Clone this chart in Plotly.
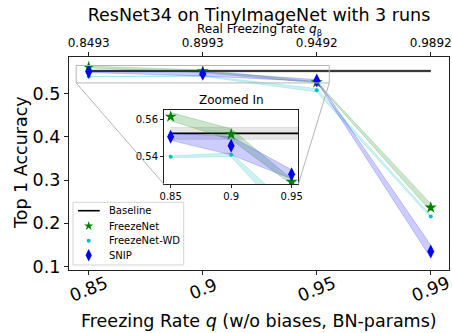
import plotly.graph_objects as go

# ---------------- data ----------------
categories = ["0.85", "0.9", "0.95", "0.99"]          # freezing rate q (bottom axis)
real_rates = ["0.8493", "0.8993", "0.9492", "0.9892"]  # real freezing rate (top axis)
x_pos = [0, 1, 2, 3]

baseline_mean = 0.5527
baseline_std = 0.0032

freezenet_mean = [0.5618, 0.5522, 0.5264, 0.2366]
freezenet_std = [0.0022, 0.0030, 0.0015, 0.0090]
wd_mean = [0.5400, 0.5410, 0.5080, 0.2158]
wd_std = [0.0005, 0.0010, 0.0040, 0.0030]
snip_mean = [0.5509, 0.5460, 0.5304, 0.1347]
snip_std = [0.0020, 0.0050, 0.0025, 0.0150]

series_names = ["Baseline", "FreezeNet", "FreezeNet-WD", "SNIP"]

y_ticks = [0.1, 0.2, 0.3, 0.4, 0.5]
inset_y_ticks = [0.54, 0.56]

# ---------------- geometry ----------------
W, H = 452, 333
ML, MR, MT, MB = 69, 3, 57, 63
PW, PH = W - ML - MR, H - MT - MB

main_xr = [-0.173, 3.16]
main_yr = [0.092, 0.585]
inset_xr = [-0.11, 2.11]
inset_yr = [0.525, 0.5654]

FONT = "DejaVu Sans"
GREEN = (0, 128, 0)
CYAN = (0, 191, 191)
BLUE = (0, 0, 255)


def rgba(c, a):
    return f"rgba({c[0]},{c[1]},{c[2]},{a})"


def py(pix):
    """pixel row -> paper y"""
    return (MT + PH - pix) / PH


def px(pix):
    """pixel column -> paper x"""
    return (pix - ML) / PW


inset_dx = [px(164), px(298.3)]
inset_dy = [py(184.3), py(110)]

styles = {
    "FreezeNet": (freezenet_mean, freezenet_std, GREEN, "star", 9, 7),
    "FreezeNet-WD": (wd_mean, wd_std, CYAN, "circle", 4, 4),
    "SNIP": (snip_mean, snip_std, BLUE, "diamond-tall", 10, 9),
}

fig = go.Figure()


def add_band(xa, ya, xs, lo, hi, color, alpha=0.2):
    fig.add_trace(go.Scatter(
        x=list(xs) + list(xs)[::-1], y=list(hi) + list(lo)[::-1],
        xaxis=xa, yaxis=ya, mode="lines", fill="toself",
        fillcolor=rgba(color, alpha), line=dict(color=rgba(color, 0.3), width=0.6),
        hoverinfo="skip", showlegend=False))


def add_all(xa, ya):
    add_band(xa, ya, [x_pos[0], x_pos[-1]],
             [baseline_mean - baseline_std] * 2, [baseline_mean + baseline_std] * 2,
             (128, 128, 128), 0.2)
    fig.add_trace(go.Scatter(
        x=[x_pos[0], x_pos[-1]], y=[baseline_mean] * 2, xaxis=xa, yaxis=ya,
        mode="lines", line=dict(color="black", width=1.6), name="Baseline",
        showlegend=False))
    for name in series_names[1:]:
        m, s, c, sym, sz, _ = styles[name]
        lo = [a - b for a, b in zip(m, s)]
        hi = [a + b for a, b in zip(m, s)]
        add_band(xa, ya, x_pos, lo, hi, c)
    for name in series_names[1:]:
        m, s, c, sym, sz, _ = styles[name]
        fig.add_trace(go.Scatter(
            x=x_pos, y=m, xaxis=xa, yaxis=ya, mode="markers", name=name,
            marker=dict(symbol=sym, size=sz, color=rgba(c, 1), line=dict(width=0)),
            showlegend=False))


add_all("x", "y")
add_all("x3", "y3")

fig.add_trace(go.Scatter(x=x_pos, y=snip_mean, xaxis="x2", yaxis="y", mode="markers",
                         marker=dict(opacity=0), hoverinfo="skip", showlegend=False))

# ---------------- legend (frame, samples and labels) ----------------
leg_left, leg_right, leg_top, leg_bottom = 73, 183.7, 202.3, 265
row_y = [210.7, 226, 240.7, 255.2]
sample_x = 88.7
text_x = 107.3
fig.add_trace(go.Scatter(
    x=[px(leg_left), px(leg_right), px(leg_right), px(leg_left), px(leg_left)],
    y=[py(leg_top), py(leg_top), py(leg_bottom), py(leg_bottom), py(leg_top)],
    xaxis="x4", yaxis="y4", mode="lines", fill="toself",
    fillcolor="rgba(255,255,255,0.85)", line=dict(color="#d4d4d4", width=1),
    hoverinfo="skip", showlegend=False))
fig.add_trace(go.Scatter(
    x=[px(78), px(99.7)], y=[py(row_y[0])] * 2, xaxis="x4", yaxis="y4",
    mode="lines", line=dict(color="black", width=1.6), hoverinfo="skip",
    showlegend=False))
for name, ry in zip(series_names[1:], row_y[1:]):
    m, s, c, sym, sz, lsz = styles[name]
    fig.add_trace(go.Scatter(
        x=[px(sample_x)], y=[py(ry)], xaxis="x4", yaxis="y4", mode="markers",
        marker=dict(symbol=sym, size=lsz, color=rgba(c, 1), line=dict(width=0)),
        hoverinfo="skip", showlegend=False))

axis_common = dict(showgrid=False, zeroline=False, linecolor="#222", ticks="outside",
                   tickcolor="#222", automargin=False)

fig.update_layout(
    width=W, height=H,
    margin=dict(l=ML, r=MR, t=MT, b=MB, pad=0, autoexpand=False),
    paper_bgcolor="white", plot_bgcolor="white",
    font=dict(family=FONT, color="black"),
    showlegend=False,
    title=dict(text="ResNet34 on TinyImageNet with 3 runs", x=(ML + PW / 2) / W,
               xanchor="center", y=1 - 15 / H, yanchor="middle", yref="container",
               font=dict(size=17.5, family=FONT), automargin=False),
    xaxis=dict(**axis_common, range=main_xr, tickvals=x_pos, showticklabels=False,
               ticklen=4, linewidth=1.3, mirror=True, showline=True),
    xaxis2=dict(**axis_common, range=main_xr, overlaying="x", side="top", anchor="y",
                tickvals=x_pos, ticktext=real_rates, ticklen=4, showline=False,
                tickfont=dict(size=12)),
    yaxis=dict(**axis_common, range=main_yr, tickvals=y_ticks,
               ticktext=[f"{v:.1f}" for v in y_ticks], ticklen=4, linewidth=1.3,
               mirror=True, showline=True, tickfont=dict(size=17.5)),
    xaxis3=dict(**axis_common, domain=inset_dx, anchor="y3", range=inset_xr,
                tickvals=x_pos[:3], ticktext=categories[:3], ticklen=3, showline=True,
                mirror=True, linewidth=1, tickfont=dict(size=10)),
    yaxis3=dict(**axis_common, domain=inset_dy, anchor="x3", range=inset_yr,
                tickvals=inset_y_ticks, ticktext=[f"{v:.2f}" for v in inset_y_ticks],
                ticklen=3, showline=True, mirror=True, linewidth=1,
                tickfont=dict(size=10)),
    xaxis4=dict(overlaying="x", range=[0, 1], visible=False, anchor="y4"),
    yaxis4=dict(overlaying="y", range=[0, 1], visible=False, anchor="x4"),
)

annotations = []
for xv, lab in zip(x_pos, categories):
    annotations.append(dict(x=xv, y=py(288.5), xref="x", yref="paper",
                            text=lab, showarrow=False, textangle=-22,
                            font=dict(size=17.5, family=FONT),
                            xanchor="center", yanchor="middle"))
annotations += [
    dict(x=0.5, y=py(321), xref="paper", yref="paper",
         text="Freezing Rate <i>q</i> (w/o biases, BN-params)", showarrow=False,
         font=dict(size=17.5, family=FONT), xanchor="center", yanchor="middle"),
    dict(x=px(21), y=py(163), xref="paper", yref="paper",
         text="Top 1 Accuracy", showarrow=False, textangle=-90,
         font=dict(size=17.5, family=FONT), xanchor="center", yanchor="middle"),
    dict(x=0.5, y=py(30), xref="paper", yref="paper",
         text="Real Freezing rate <i>q</i><sub>β</sub>", showarrow=False,
         font=dict(size=12, family=FONT), xanchor="center", yanchor="middle"),
    dict(x=sum(inset_dx) / 2, y=py(100.5), xref="paper", yref="paper",
         text="Zoomed In", showarrow=False, font=dict(size=12, family=FONT),
         xanchor="center", yanchor="middle"),
]
for name, ry in zip(series_names, row_y):
    annotations.append(dict(x=px(text_x), y=py(ry), xref="paper", yref="paper",
                            text=name, showarrow=False, font=dict(size=10, family=FONT),
                            xanchor="left", yanchor="middle"))
fig.update_layout(annotations=annotations)


def to_paper_x(v):
    return (v - main_xr[0]) / (main_xr[1] - main_xr[0])


def to_paper_y(v):
    return (v - main_yr[0]) / (main_yr[1] - main_yr[0])


shapes = [
    dict(type="rect", xref="x", yref="y", x0=inset_xr[0], x1=inset_xr[1],
         y0=inset_yr[0], y1=inset_yr[1], line=dict(color="#b5b5b5", width=1),
         fillcolor="rgba(0,0,0,0)", layer="above"),
    dict(type="line", xref="paper", yref="paper",
         x0=to_paper_x(inset_xr[0]), y0=to_paper_y(inset_yr[0]),
         x1=inset_dx[0], y1=inset_dy[0], line=dict(color="#b5b5b5", width=1)),
    dict(type="line", xref="paper", yref="paper",
         x0=to_paper_x(inset_xr[1]), y0=to_paper_y(inset_yr[0]),
         x1=inset_dx[1], y1=inset_dy[0], line=dict(color="#b5b5b5", width=1)),
]
fig.update_layout(shapes=shapes)

fig.write_html("out.html", config={"displayModeBar": False},
               post_script="document.body.style.margin='0';"
                           "document.body.style.overflow='hidden';")
